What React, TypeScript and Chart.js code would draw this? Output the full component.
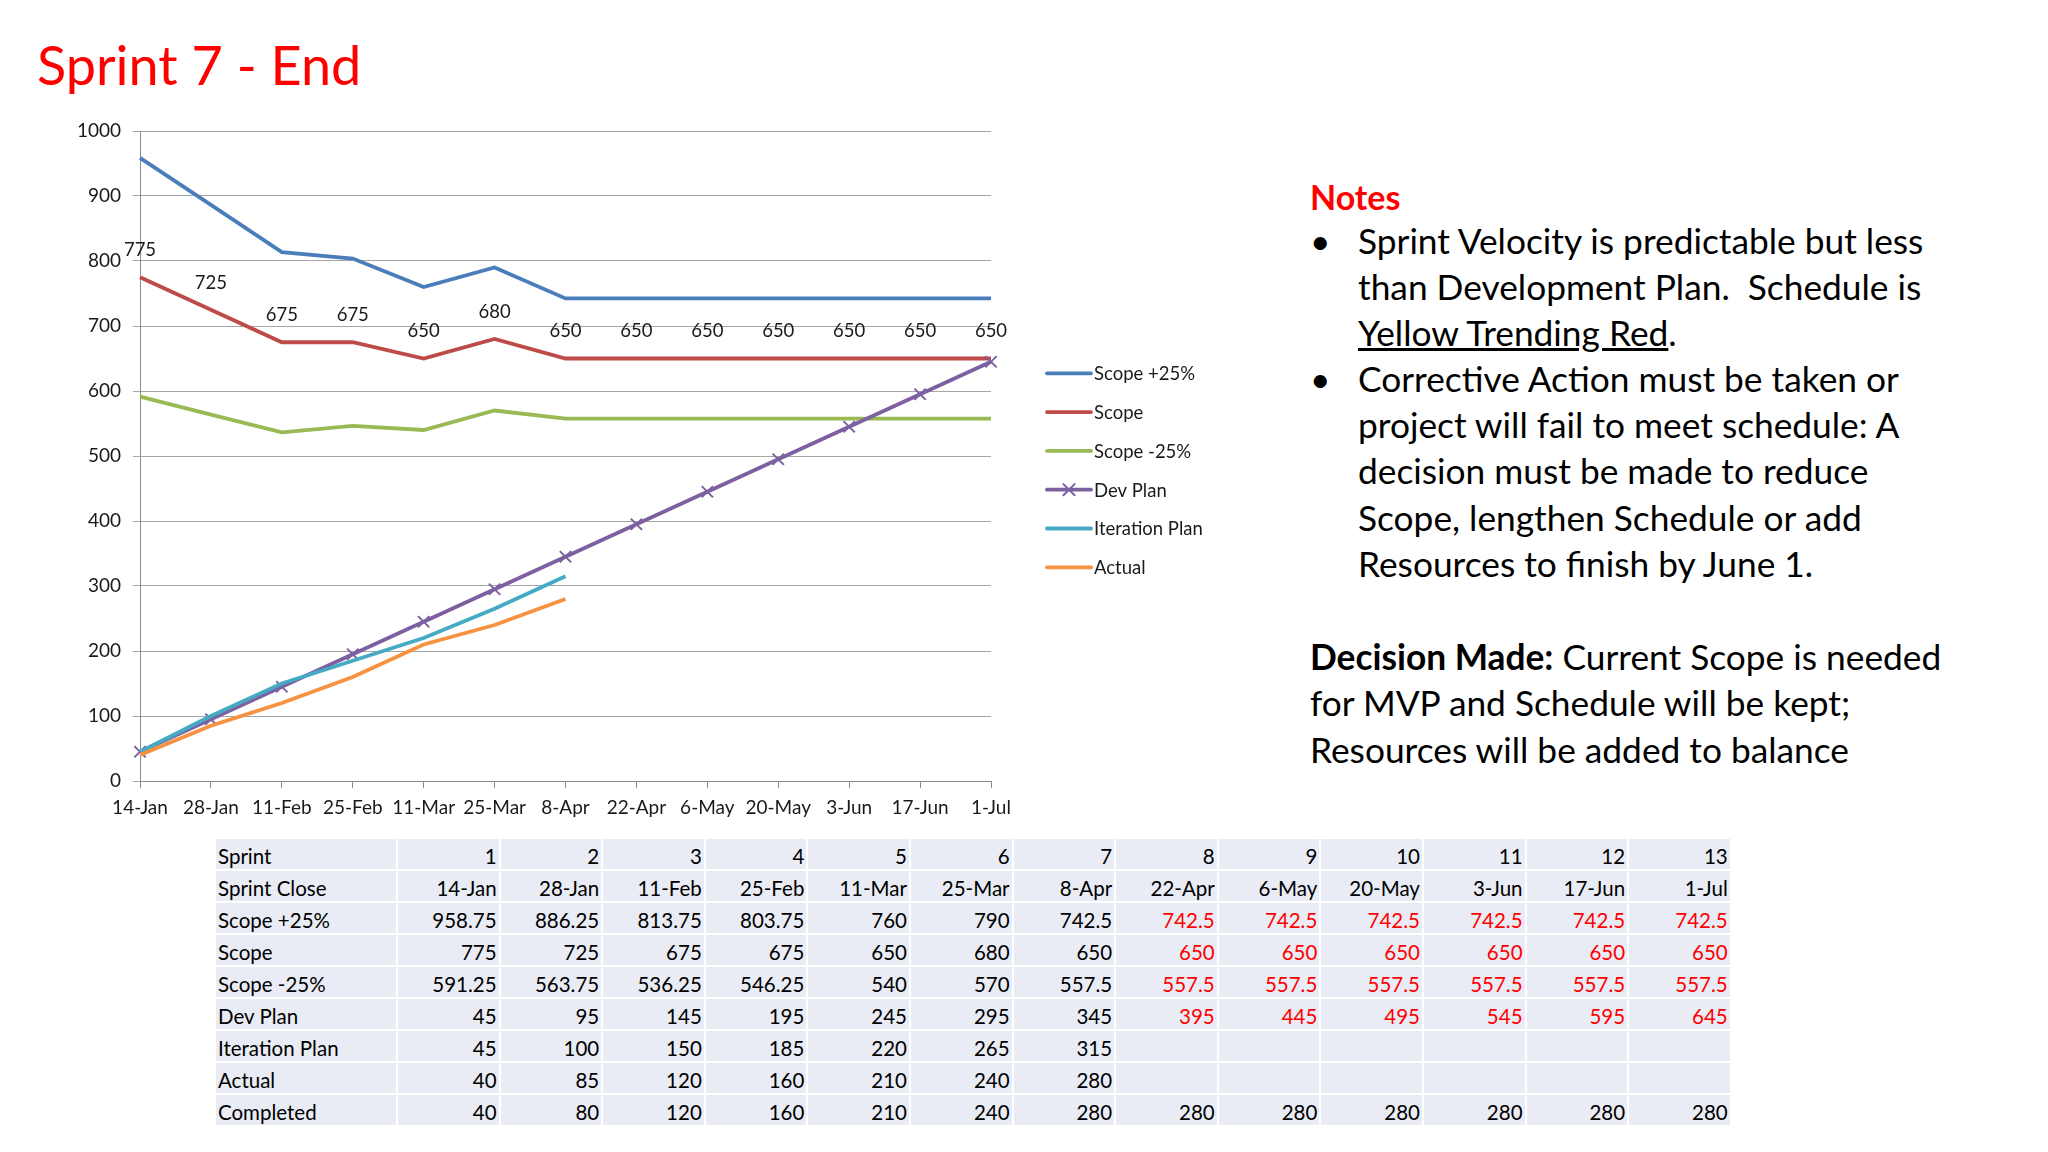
import React, { useEffect, useRef } from 'react';
import { Chart, registerables } from 'chart.js';

Chart.register(...registerables);

const FONT = 'Lato, "Open Sans", sans-serif';

// ---- data ----
const sprints = [1, 2, 3, 4, 5, 6, 7, 8, 9, 10, 11, 12, 13];
const sprintClose = ['14-Jan', '28-Jan', '11-Feb', '25-Feb', '11-Mar', '25-Mar', '8-Apr', '22-Apr', '6-May', '20-May', '3-Jun', '17-Jun', '1-Jul'];
const scopePlus25 = [958.75, 886.25, 813.75, 803.75, 760, 790, 742.5, 742.5, 742.5, 742.5, 742.5, 742.5, 742.5];
const scope = [775, 725, 675, 675, 650, 680, 650, 650, 650, 650, 650, 650, 650];
const scopeMinus25 = [591.25, 563.75, 536.25, 546.25, 540, 570, 557.5, 557.5, 557.5, 557.5, 557.5, 557.5, 557.5];
const devPlan = [45, 95, 145, 195, 245, 295, 345, 395, 445, 495, 545, 595, 645];
const iterationPlan = [45, 100, 150, 185, 220, 265, 315, null, null, null, null, null, null];
const actual = [40, 85, 120, 160, 210, 240, 280, null, null, null, null, null, null];
const completed = [40, 80, 120, 160, 210, 240, 280, 280, 280, 280, 280, 280, 280];
const yTicks = [0, 100, 200, 300, 400, 500, 600, 700, 800, 900, 1000];
const firstProjected = 7; // sprint 8 onward shown in red

const seriesNames = ['Scope +25%', 'Scope', 'Scope -25%', 'Dev Plan', 'Iteration Plan', 'Actual'];
const seriesColors = ['#4A7EBB', '#BE4B48', '#98B954', '#7D60A0', '#46AAC5', '#F69240'];

const tableRows = [
  { label: 'Sprint', values: sprints, projected: false },
  { label: 'Sprint Close', values: sprintClose, projected: false },
  { label: 'Scope +25%', values: scopePlus25, projected: true },
  { label: 'Scope', values: scope, projected: true },
  { label: 'Scope -25%', values: scopeMinus25, projected: true },
  { label: 'Dev Plan', values: devPlan, projected: true },
  { label: 'Iteration Plan', values: iterationPlan, projected: false },
  { label: 'Actual', values: actual, projected: false },
  { label: 'Completed', values: completed, projected: false },
];

// ---- plugins ----
const sketchLegend = {
  id: 'sketchLegend',
  afterDraw(chart: any, _args: any, opts: any) {
    const ctx = chart.ctx;
    ctx.save();
    chart.data.datasets.forEach((ds: any, i: number) => {
      const y = opts.y + i * opts.rowHeight;
      ctx.strokeStyle = ds.borderColor;
      ctx.lineWidth = ds.borderWidth;
      ctx.lineCap = 'round';
      ctx.beginPath();
      ctx.moveTo(opts.x, y);
      ctx.lineTo(opts.x + opts.lineLength, y);
      ctx.stroke();
      if (ds.pointStyle === 'crossRot' && ds.pointRadius > 0) {
        const cx = opts.x + opts.lineLength / 2;
        const r = ds.pointRadius * 0.7;
        ctx.lineWidth = ds.pointBorderWidth;
        ctx.strokeStyle = ds.pointBorderColor;
        ctx.beginPath();
        ctx.moveTo(cx - r, y - r);
        ctx.lineTo(cx + r, y + r);
        ctx.moveTo(cx - r, y + r);
        ctx.lineTo(cx + r, y - r);
        ctx.stroke();
      }
      ctx.fillStyle = opts.color;
      ctx.font = opts.font;
      ctx.textBaseline = 'middle';
      ctx.textAlign = 'left';
      ctx.fillText(ds.label, opts.x + opts.lineLength + opts.gap, y + 1);
    });
    ctx.restore();
  },
};

const valueLabels = {
  id: 'valueLabels',
  afterDatasetsDraw(chart: any, _args: any, opts: any) {
    const ctx = chart.ctx;
    ctx.save();
    ctx.font = opts.font;
    ctx.fillStyle = opts.color;
    ctx.textAlign = 'center';
    ctx.textBaseline = 'middle';
    chart.data.datasets.forEach((ds: any, i: number) => {
      if (!ds.showValues) return;
      const meta = chart.getDatasetMeta(i);
      meta.data.forEach((pt: any, j: number) => {
        const v = ds.data[j];
        if (v === null || v === undefined) return;
        ctx.fillText(String(v), pt.x, pt.y - opts.offset);
      });
    });
    ctx.restore();
  },
};

function makeDataset(idx: number, data: (number | null)[], extra: any = {}) {
  return {
    label: seriesNames[idx],
    data,
    borderColor: seriesColors[idx],
    backgroundColor: seriesColors[idx],
    borderWidth: 3.8,
    pointRadius: 0,
    tension: 0,
    fill: false,
    spanGaps: false,
    order: 10 - idx,
    ...extra,
  };
}

export default function App() {
  const ref = useRef<HTMLCanvasElement>(null);

  useEffect(() => {
    if (!ref.current) return;
    const chart = new Chart(ref.current, {
      type: 'line',
      data: {
        labels: sprintClose,
        datasets: [
          makeDataset(0, scopePlus25),
          makeDataset(1, scope, { showValues: true }),
          makeDataset(2, scopeMinus25),
          makeDataset(3, devPlan, {
            pointStyle: 'crossRot',
            pointRadius: 8,
            pointBorderWidth: 2,
            pointBorderColor: seriesColors[3],
          }),
          makeDataset(4, iterationPlan),
          makeDataset(5, actual),
        ] as any,
      },
      options: {
        responsive: false,
        animation: false,
        events: [],
        layout: { padding: { left: 0, top: 31, right: 309, bottom: 0 } },
        scales: {
          x: {
            type: 'category',
            offset: false,
            afterFit: (s: any) => { s.height = 50; },
            grid: { display: true, drawOnChartArea: false, drawTicks: true, tickLength: 7, color: '#8c8c8c' },
            border: { display: true, color: '#8c8c8c', width: 1 },
            ticks: { font: { family: FONT, size: 19 }, color: '#1a1a1a', padding: 8, maxRotation: 0, autoSkip: false },
          },
          y: {
            min: yTicks[0],
            max: yTicks[yTicks.length - 1],
            afterFit: (s: any) => { s.width = 140; },
            afterBuildTicks: (s: any) => { s.ticks = yTicks.map((v) => ({ value: v })); },
            grid: { display: true, drawTicks: true, tickLength: 7, color: '#a6a6a6', lineWidth: 1 },
            border: { display: true, color: '#8c8c8c', width: 1 },
            ticks: {
              font: { family: FONT, size: 19 },
              color: '#1a1a1a',
              padding: 12,
              callback: (v: any) => String(v),
            },
          },
        },
        plugins: {
          legend: { display: false },
          tooltip: { enabled: false },
          sketchLegend: { x: 1047, y: 273.3, rowHeight: 38.8, lineLength: 44, gap: 3, font: `18.5px ${FONT}`, color: '#1a1a1a' },
          valueLabels: { font: `18.5px ${FONT}`, color: '#1a1a1a', offset: 27 },
        } as any,
      },
      plugins: [sketchLegend, valueLabels],
    });
    return () => chart.destroy();
  }, []);

  const bodyText: React.CSSProperties = {
    position: 'absolute',
    fontSize: 35.3,
    lineHeight: '46.1px',
    color: '#000',
    whiteSpace: 'pre',
  };

  return (
    <div style={{ position: 'absolute', left: 0, top: 0, width: 2048, height: 1152, background: '#fff', overflow: 'hidden', fontFamily: FONT }}>
      <div style={{ position: 'absolute', left: 37, top: 32.5, fontSize: 54, lineHeight: '64.8px', color: '#FF0000', whiteSpace: 'nowrap' }}>
        Sprint 7 - End
      </div>

      <canvas ref={ref} width={1300} height={731} style={{ position: 'absolute', left: 0, top: 100 }} />

      <div style={{ position: 'absolute', left: 1310, top: 176.5, fontSize: 34, lineHeight: '40.8px', fontWeight: 700, color: '#FF0000' }}>Notes</div>

      <div style={{ ...bodyText, left: 1310, top: 218 }}>{'•\n\n\n•'}</div>
      <div style={{ ...bodyText, left: 1358, top: 218 }}>
        <div>Sprint Velocity is predictable but less</div>
        <div>{'than Development Plan.  Schedule is'}</div>
        <div><span style={{ textDecoration: 'underline' }}>Yellow Trending Red</span>.</div>
        <div>Corrective Action must be taken or</div>
        <div>project will fail to meet schedule: A</div>
        <div>decision must be made to reduce</div>
        <div>Scope, lengthen Schedule or add</div>
        <div>Resources to finish by June 1.</div>
      </div>

      <div style={{ ...bodyText, left: 1310, top: 633.5, lineHeight: '46.5px' }}>
        <div><b>Decision Made:</b> Current Scope is needed</div>
        <div>for MVP and Schedule will be kept;</div>
        <div>Resources will be added to balance</div>
      </div>

      <div
        style={{
          position: 'absolute',
          left: 216,
          top: 839,
          display: 'grid',
          gridTemplateColumns: `180px repeat(${sprints.length}, 100.6px)`,
          gridAutoRows: '30px',
          columnGap: 2,
          rowGap: 2,
          fontSize: 20.5,
          lineHeight: '30px',
          color: '#000',
        }}
      >
        {tableRows.map((row, r) => (
          <React.Fragment key={r}>
            <div style={{ background: '#E9ECF4', padding: '2px 2px 0', whiteSpace: 'nowrap' }}>{row.label}</div>
            {row.values.map((v, c) => (
              <div
                key={c}
                style={{
                  background: '#E9ECF4',
                  padding: '2px 2px 0',
                  textAlign: 'right',
                  whiteSpace: 'nowrap',
                  color: row.projected && c >= firstProjected ? '#FF0000' : '#000',
                }}
              >
                {v === null ? '' : String(v)}
              </div>
            ))}
          </React.Fragment>
        ))}
      </div>
    </div>
  );
}
